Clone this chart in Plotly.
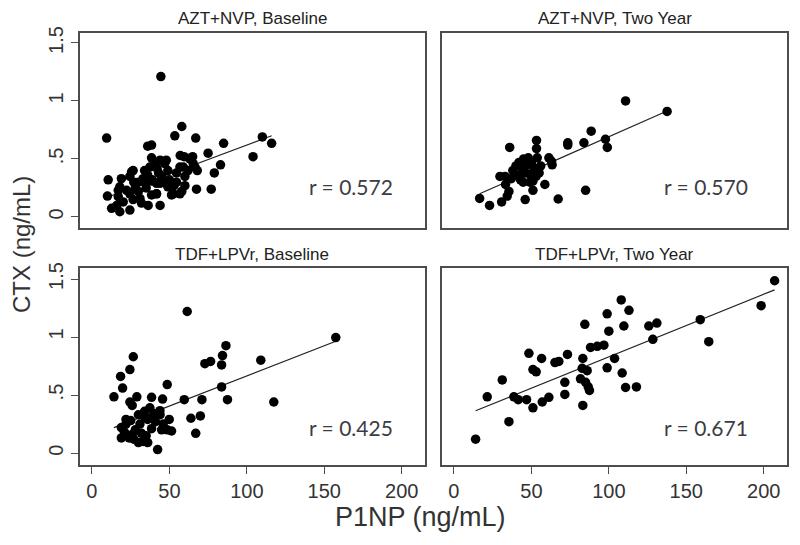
import plotly.graph_objects as go

# ---------------- data ----------------
panel_titles = ["AZT+NVP, Baseline", "AZT+NVP, Two Year",
                "TDF+LPVr, Baseline", "TDF+LPVr, Two Year"]
r_labels = ["r = 0.572", "r = 0.570", "r = 0.425", "r = 0.671"]

azt_base_x = [44.5, 9.5, 58, 53.5, 67, 85, 36, 38.5, 75, 57, 59.5, 65, 83, 79, 67.5, 77,
              110, 116, 104, 10.5, 10, 19, 25.6, 12.7, 18, 24.5, 16, 31, 32, 44, 36.3,
              52.5, 58, 17, 22.4, 20.2, 24.5, 26.6, 41.7, 44, 50, 54.6, 49, 59, 65.4,
              63.2, 66.5, 62, 56.8, 54.6, 47, 44, 38.5, 37.4, 34, 26.6, 24.5, 18, 30,
              34, 38.5, 41.7, 46, 49, 41.7, 38.5, 17, 60, 56.8, 51.4, 40, 42, 45, 36,
              33, 28, 48, 43, 53, 60, 68, 30, 35, 39, 27]
azt_base_y = [1.21, 0.68, 0.78, 0.70, 0.68, 0.635, 0.61, 0.62, 0.55, 0.53, 0.52, 0.52, 0.45,
              0.38, 0.24, 0.24, 0.69, 0.635, 0.52, 0.32, 0.18, 0.33, 0.39, 0.075, 0.045,
              0.06, 0.10, 0.16, 0.12, 0.10, 0.10, 0.20, 0.22, 0.175, 0.23, 0.13, 0.20,
              0.15, 0.20, 0.29, 0.32, 0.38, 0.40, 0.43, 0.46, 0.50, 0.43, 0.40, 0.43,
              0.30, 0.46, 0.49, 0.51, 0.43, 0.40, 0.40, 0.35, 0.26, 0.30, 0.30, 0.31,
              0.29, 0.30, 0.26, 0.20, 0.19, 0.23, 0.35, 0.20, 0.19, 0.45, 0.42, 0.35,
              0.36, 0.33, 0.25, 0.49, 0.38, 0.27, 0.27, 0.40, 0.22, 0.25, 0.32, 0.30]

azt_2yr_x = [88.6, 97.8, 99, 83.9, 73.5, 73.5, 53.3, 53.3, 36, 61.3, 63, 63.4, 53.8, 29.7,
             33.3, 44.7, 51, 58.7, 51, 35.5, 34.4, 30.8, 16.6, 23, 46, 67.3, 85, 110.8,
             137.6, 45, 48, 42, 40, 38, 44, 47, 50, 52, 55, 53, 49, 41, 37, 46, 56, 33,
             43, 49]
azt_2yr_y = [0.74, 0.67, 0.60, 0.64, 0.64, 0.62, 0.66, 0.59, 0.60, 0.51, 0.48, 0.45, 0.51,
             0.35, 0.28, 0.30, 0.31, 0.28, 0.23, 0.22, 0.18, 0.13, 0.16, 0.10, 0.15,
             0.155, 0.23, 1.00, 0.91, 0.50, 0.51, 0.47, 0.44, 0.40, 0.42, 0.45, 0.47,
             0.42, 0.38, 0.35, 0.37, 0.36, 0.33, 0.38, 0.44, 0.35, 0.32, 0.30]

tdf_base_x = [61.5, 86.5, 84.3, 83.7, 76.6, 72.9, 26.7, 24.5, 18.5, 19.8, 14.2, 48.6, 83.7,
              87.5, 59.6, 71, 29, 38.5, 45.6, 24.5, 26, 37.4, 43.9, 34, 63.9, 70, 49.9,
              48.6, 51.4, 67, 38.5, 42.4, 157.4, 109, 117.4, 19, 22, 25, 21, 24, 19, 27,
              30, 33, 35, 28, 31, 36, 39, 41, 44, 46, 34, 30, 40, 32, 26, 36, 45, 22]
tdf_base_y = [1.22, 0.925, 0.84, 0.76, 0.79, 0.77, 0.83, 0.72, 0.66, 0.56, 0.485, 0.59,
              0.57, 0.46, 0.46, 0.46, 0.485, 0.48, 0.465, 0.44, 0.41, 0.39, 0.365, 0.36,
              0.30, 0.32, 0.29, 0.20, 0.19, 0.17, 0.21, 0.03, 0.995, 0.80, 0.44, 0.22,
              0.25, 0.28, 0.18, 0.13, 0.13, 0.12, 0.09, 0.10, 0.15, 0.20, 0.25, 0.29,
              0.31, 0.27, 0.33, 0.25, 0.31, 0.33, 0.34, 0.17, 0.16, 0.09, 0.20, 0.29]

tdf_2yr_x = [14, 35.5, 21.5, 31.2, 38.7, 41.5, 46.9, 51, 57, 61.3, 48.4, 56.6, 51, 53.1,
             65.2, 67.7, 73.3, 71.6, 71.6, 84.5, 83.2, 82.8, 86, 81.7, 85, 86.7, 87.5,
             83.2, 88.2, 92.5, 96.8, 98.9, 100, 98.9, 207, 198.3, 159, 164.5, 131,
             125.8, 128.4, 108, 113, 109.7, 103.7, 108.6, 110.8, 117.8]
tdf_2yr_y = [0.12, 0.27, 0.485, 0.63, 0.485, 0.46, 0.46, 0.39, 0.44, 0.48, 0.86, 0.815,
             0.72, 0.70, 0.78, 0.79, 0.85, 0.61, 0.505, 1.11, 0.815, 0.73, 0.71, 0.64,
             0.61, 0.57, 0.54, 0.41, 0.91, 0.92, 0.93, 1.20, 1.05, 0.735, 1.485, 1.27,
             1.15, 0.96, 1.12, 1.095, 0.98, 1.32, 1.23, 1.095, 0.815, 0.69, 0.565, 0.57]

# fitted lines: intercept, slope
fit_intercept = [0.12, 0.102, 0.145, 0.289]
fit_slope = [0.0050, 0.0059, 0.0052, 0.0054]

x_ticks = [0, 50, 100, 150, 200]
y_ticks = [0, 0.5, 1, 1.5]
y_ticktext = ["0", ".5", "1", "1.5"]
x_title = "P1NP (ng/mL)"
y_title = "CTX (ng/mL)"

# ---------------- figure ----------------
series = [(azt_base_x, azt_base_y), (azt_2yr_x, azt_2yr_y),
          (tdf_base_x, tdf_base_y), (tdf_2yr_x, tdf_2yr_y)]

W, H = 800, 545
OFF = 8  # the page body adds an 8 px margin; compensate so page pixels match


def px(p):
    return (p - OFF) / W


def py(p):
    return 1 - (p - OFF) / H


x_doms = [[px(80), px(425)], [px(442), px(787)]]
y_doms = [[py(228), py(33)], [py(465), py(268)]]
x_range = [-7.7, 215]
y_ranges = [[-0.095, 1.586], [-0.103, 1.595]]

fig = go.Figure()
frame = "#4d4d4d"
narrow = "Liberation Sans Narrow, Arial Narrow, Liberation Sans"
tickfont = dict(family=narrow, size=20, color="#333333")

for i, (xs, ys) in enumerate(series):
    n = i + 1
    xa = "x" if n == 1 else f"x{n}"
    ya = "y" if n == 1 else f"y{n}"
    xmin, xmax = min(xs), max(xs)
    fig.add_trace(go.Scatter(x=[xmin, xmax],
                             y=[fit_intercept[i] + fit_slope[i] * xmin,
                                fit_intercept[i] + fit_slope[i] * xmax],
                             mode="lines", line=dict(color="#222222", width=1.2),
                             xaxis=xa, yaxis=ya, showlegend=False, hoverinfo="skip"))
    fig.add_trace(go.Scatter(x=xs, y=ys, mode="markers",
                             marker=dict(color="black", size=9.5, line=dict(width=0)),
                             xaxis=xa, yaxis=ya, showlegend=False))

    row = i // 2
    col = i % 2
    bottom = row == 1
    left = col == 0
    xkey = "xaxis" if n == 1 else f"xaxis{n}"
    ykey = "yaxis" if n == 1 else f"yaxis{n}"
    fig.layout[xkey] = dict(domain=x_doms[col], anchor=ya, range=x_range,
                            showline=True, mirror=True, linecolor=frame, linewidth=1.6,
                            showgrid=False, zeroline=False, automargin=False,
                            tickvals=x_ticks, ticks="outside" if bottom else "",
                            ticklen=7, tickcolor=frame, tickwidth=1.2,
                            showticklabels=bottom, tickfont=tickfont)
    fig.layout[ykey] = dict(domain=y_doms[row], anchor=xa, range=y_ranges[row],
                            showline=True, mirror=True, linecolor=frame, linewidth=1.6,
                            showgrid=False, zeroline=False, automargin=False,
                            tickvals=y_ticks, ticktext=y_ticktext,
                            ticks="outside" if left else "", ticklen=7, tickcolor=frame,
                            tickwidth=1.2, tickangle=-90,
                            showticklabels=left, tickfont=tickfont)

    # panel title
    fig.add_annotation(text=panel_titles[i], xref="paper", yref="paper",
                       x=sum(x_doms[col]) / 2, y=y_doms[row][1], yshift=14,
                       showarrow=False, xanchor="center", yanchor="middle",
                       font=dict(family="Liberation Sans, Arial", size=17, color="#222222"))
    # correlation label
    fig.add_annotation(text=r_labels[i], xref=xa, yref=ya,
                       x=167 if left else 162.6, y=0.26 if not bottom else 0.22,
                       showarrow=False, xanchor="center", yanchor="middle",
                       font=dict(family="Lato, Open Sans", size=21, color="#3c3c44"))

fig.add_annotation(text=x_title, xref="paper", yref="paper", x=px(420), y=py(517),
                   showarrow=False, xanchor="center", yanchor="middle",
                   font=dict(family=narrow, size=27, color="#333333"))
fig.add_annotation(text=y_title, xref="paper", yref="paper", x=px(22), y=py(245),
                   showarrow=False, xanchor="center", yanchor="middle", textangle=-90,
                   font=dict(family="Liberation Sans, Arial", size=24, color="#333333"))

fig.update_layout(width=W, height=H, margin=dict(l=0, r=0, t=0, b=0),
                  paper_bgcolor="white", plot_bgcolor="white")

fig.write_html("out.html")
